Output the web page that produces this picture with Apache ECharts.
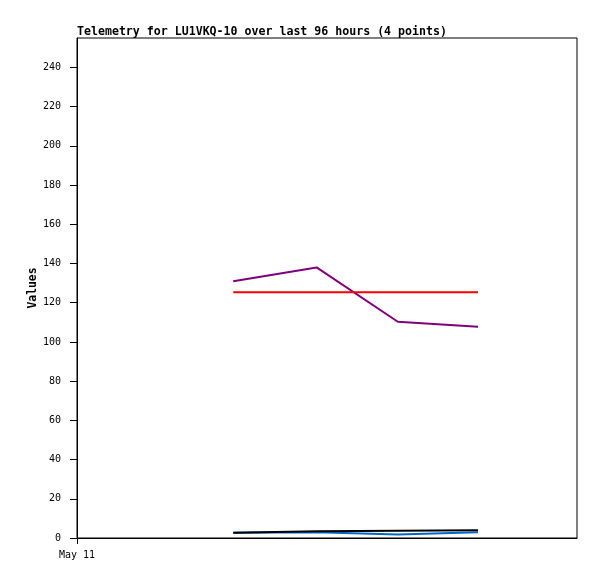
<!DOCTYPE html>
<html><head><meta charset="utf-8">
<script src="https://cdn.jsdelivr.net/npm/echarts@6/dist/echarts.min.js"></script>
<style>html,body{margin:0;padding:0;background:#fff}#c{width:597px;height:579px}</style>
</head><body><div id="c"></div>
<script>
// hours after May 11 00:00
const hours = [7.5, 11.5, 15.4, 19.25];
const purpleVals = [130.9, 138.0, 110.3, 107.7];
const redVals = [125.3, 125.3, 125.3, 125.3];
const blackVals = [2.7, 3.5, 3.7, 3.9];
const blueVals = [2.7, 2.9, 1.8, 2.9];
const yTicks = [0, 20, 40, 60, 80, 100, 120, 140, 160, 180, 200, 220, 240];
const xTicks = [0];
const xTickLabels = ['May 11'];
const titleText = 'Telemetry for LU1VKQ-10 over last 96 hours (4 points)';

const font = '"DejaVu Sans Mono", monospace';
function pts(v){ return hours.map((h,i)=>[h, v[i]]); }
function line(v, color){
  return {type:'line', data:pts(v), symbol:'none', animation:false,
    lineStyle:{color:color, width:2}, itemStyle:{color:color}};
}
const chart = echarts.init(document.getElementById('c'));
chart.setOption({
  animation:false,
  title:{text:titleText, left:77, top:26, padding:0,
    textStyle:{fontFamily:font, fontSize:11.6, fontWeight:'bold', color:'#000'}},
  grid:{left:77, top:38, right:20, bottom:41, show:true, borderColor:'#000', borderWidth:1, backgroundColor:'transparent'},
  xAxis:{type:'value', min:0, max:24,
    axisLine:{lineStyle:{color:'#000', width:1}},
    axisTick:{show:true, length:6, customValues:xTicks, lineStyle:{color:'#000'}},
    axisLabel:{customValues:xTicks, formatter:(v)=>xTickLabels[xTicks.indexOf(v)]||'', fontFamily:font, fontSize:10, color:'#000', margin:12},
    splitLine:{show:false}},
  yAxis:{type:'value', min:0, max:255,
    name:'Values', nameLocation:'middle', nameGap:38, nameRotate:90, nameMoveOverlap:false,
    nameTextStyle:{fontFamily:font, fontSize:11.4, fontWeight:'bold', color:'#000'},
    axisLine:{lineStyle:{color:'#000', width:1}},
    axisTick:{show:true, length:7, customValues:yTicks, lineStyle:{color:'#000'}},
    axisLabel:{customValues:yTicks, fontFamily:font, fontSize:10, color:'#000', margin:16},
    splitLine:{show:false}},
  series:[
    line(purpleVals, '#7f007f'),
    line(redVals, '#ff0000'),
    line(blueVals, '#0066cc'),
    line(blackVals, '#000000')
  ]
});
</script></body></html>
